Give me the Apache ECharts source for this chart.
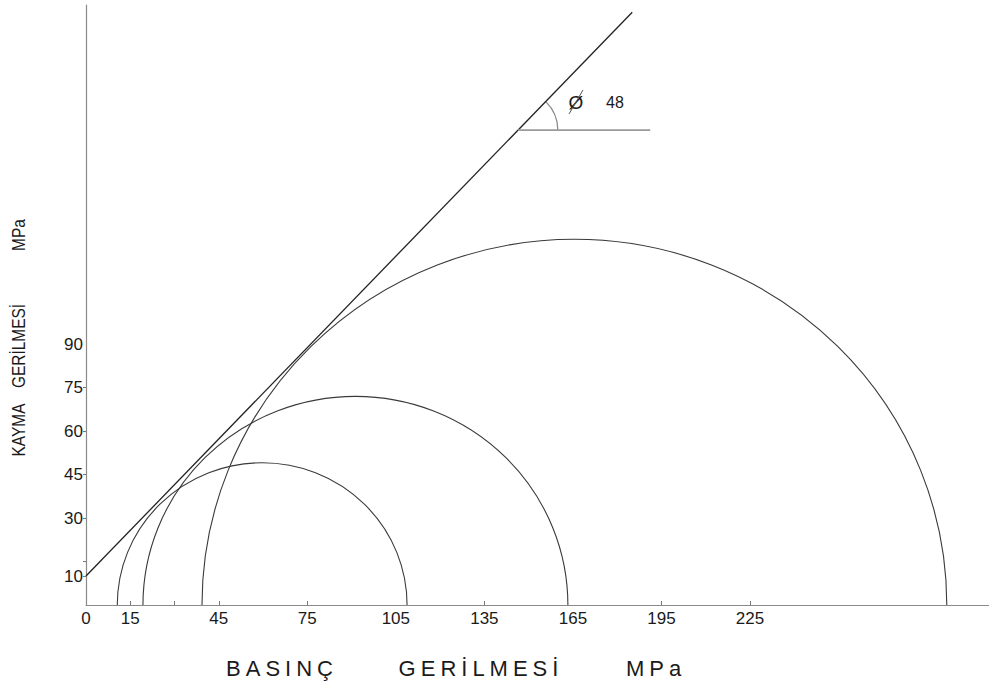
<!DOCTYPE html>
<html>
<head>
<meta charset="utf-8">
<script src="https://cdn.jsdelivr.net/npm/echarts@6/dist/echarts.min.js"></script>
<style>
html,body{margin:0;padding:0;background:#fff;}
#chart{width:989px;height:693px;}
</style>
</head>
<body>
<div id="chart"></div>
<script>
// ---- data ----
const xTickValues = [15, 30, 45, 75, 135, 195, 225];
const xLabelValues = [0, 15, 45, 75, 105, 135, 165, 195, 225];
const yTickValues = [10, 15, 30, 45, 60, 75];
const yLabelValues = [10, 30, 45, 60, 75, 90];
const circleCenters = [59.7, 91.3, 165.5];
const circleRadii = [49.1, 72.0, 126.2];
const envelopeX = [0, 185.1];
const envelopeY = [10, 204.5];
const angleVertex = [146.4, 163.8];
const angleLineEndX = 191.2;
const angleArcRadius = 13.5;
const frictionAngleText = '48';
const xNameWords = ['BASINÇ', 'GERİLMESİ', 'MPa'];
const yNameWords = ['KAYMA', 'GERİLMESİ', 'MPa'];

const FONT = '"Liberation Sans", Arial, Helvetica, sans-serif';
const chart = echarts.init(document.getElementById('chart'), null, {renderer: 'svg'});

const circleData = circleCenters.map((c, i) => [c, circleRadii[i]]);

function txt(x, y, text, size, extra) {
  return Object.assign({
    type: 'text', x: x, y: y,
    style: {text: text, fontSize: size, fontFamily: FONT, fill: '#1a1a1a', align: 'center', verticalAlign: 'middle'}
  }, extra || {});
}

const option = {
  animation: false,
  backgroundColor: '#fff',
  grid: {left: 86, right: 0, top: 5, bottom: 88, containLabel: false},
  xAxis: {
    type: 'value', min: 0, max: 306,
    splitLine: {show: false},
    axisLine: {show: true, lineStyle: {color: '#8a8a8a', width: 1.2}},
    axisTick: {show: true, inside: true, length: 4, customValues: xTickValues, lineStyle: {color: '#777'}},
    axisLabel: {customValues: xLabelValues, color: '#1a1a1a', fontSize: 17, fontFamily: FONT, margin: 5}
  },
  yAxis: {
    type: 'value', min: 0, max: 207,
    splitLine: {show: false},
    axisLine: {show: true, lineStyle: {color: '#8a8a8a', width: 1.2}},
    axisTick: {show: true, inside: false, length: 3, customValues: yTickValues, lineStyle: {color: '#777'}},
    axisLabel: {customValues: yLabelValues, color: '#1a1a1a', fontSize: 17, fontFamily: FONT, margin: 3, padding: [0, 0, 8, 0]}
  },
  series: [
    {
      type: 'custom',
      data: circleData,
      renderItem: function (params, api) {
        const c = api.coord([api.value(0), 0]);
        const rx = api.size([api.value(1), 0])[0];
        const ry = api.size([0, api.value(1)])[1];
        return {
          type: 'arc',
          x: c[0], y: c[1],
          scaleY: ry / rx,
          shape: {cx: 0, cy: 0, r: rx, startAngle: Math.PI, endAngle: 2 * Math.PI, clockwise: true},
          style: {stroke: '#3a3a3a', fill: null, lineWidth: 1.1, strokeNoScale: true}
        };
      }
    },
    {
      type: 'line',
      data: envelopeX.map((x, i) => [x, envelopeY[i]]),
      symbol: 'none',
      lineStyle: {color: '#222', width: 1.3}
    },
    {
      type: 'line',
      data: [angleVertex, [angleLineEndX, angleVertex[1]]],
      symbol: 'none',
      lineStyle: {color: '#9a9a9a', width: 1.8}
    },
    {
      type: 'custom',
      data: [[angleVertex[0], angleVertex[1]]],
      renderItem: function (params, api) {
        const v = api.coord([api.value(0), api.value(1)]);
        const a = api.coord([envelopeX[0], envelopeY[0]]);
        const b = api.coord([envelopeX[1], envelopeY[1]]);
        const ang = Math.atan2(b[1] - a[1], b[0] - a[0]);
        const r = api.size([angleArcRadius, 0])[0];
        return {
          type: 'arc',
          shape: {cx: v[0], cy: v[1], r: r, startAngle: ang, endAngle: 0, clockwise: true},
          style: {stroke: '#8a8a8a', fill: null, lineWidth: 1.3}
        };
      }
    }
  ],
  graphic: [
    txt(576, 102, 'Ø', 19, {}),
    {type: 'line', shape: {x1: 569, y1: 114, x2: 583, y2: 90}, style: {stroke: '#555', lineWidth: 1}},
    txt(615, 102, frictionAngleText, 16),
    txt(282, 668, xNameWords[0], 22),
    txt(481, 668, xNameWords[1], 22),
    txt(656, 668, xNameWords[2], 22),
    txt(19, 430, yNameWords[0], 18, {rotation: Math.PI / 2, scaleX: 0.86}),
    txt(19, 346, yNameWords[1], 18, {rotation: Math.PI / 2, scaleX: 0.86}),
    txt(19, 235, yNameWords[2], 18, {rotation: Math.PI / 2, scaleX: 0.86})
  ]
};
chart.setOption(option);

function spaceLetters() {
  document.querySelectorAll('#chart text').forEach(function (t) {
    const r = t.getBoundingClientRect();
    if (r.top > 645 && xNameWords.indexOf(t.textContent) >= 0) {
      t.setAttribute('letter-spacing', '5');
      t.style.letterSpacing = '5px';
    }
  });
}
spaceLetters();
chart.on('finished', spaceLetters);
setTimeout(spaceLetters, 50);
</script>
</body>
</html>
